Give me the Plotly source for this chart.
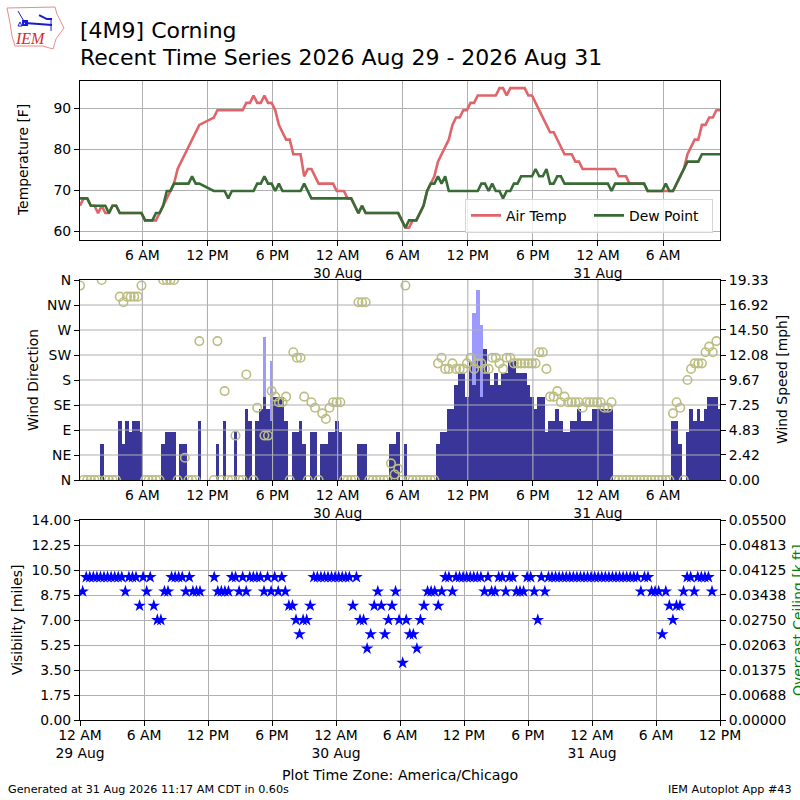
import pandas as pd
import plotly.graph_objects as go

# 20 minute AWOS obs, first one at 00:15
obs_times = pd.date_range("2026-08-29 00:15", periods=178, freq="20min")

air_temp = [
    66.2, 68, 68, 66.2, 66.2, 64.4, 66.2, 64.4, 64.4, 66.2,
    66.2, 64.4, 64.4, 64.4, 64.4, 64.4, 64.4, 64.4, 62.6, 62.6,
    62.6, 62.6, 64.4, 66.2, 68, 69.8, 71.6, 75.2, 77, 78.8,
    80.6, 82.4, 84.2, 86, None, None, None, 87.8, 89.6, 89.6,
    89.6, 89.6, 89.6, 89.6, 89.6, 89.6, 91.4, 91.4, 93.2, 91.4,
    91.4, 93.2, 91.4, 91.4, 89.6, 86, 84.2, 82.4, 82.4, 78.8,
    78.8, 78.8, 73.4, 75.2, 75.2, 73.4, 71.6, 71.6, 71.6, 71.6,
    71.6, 69.8, 69.8, 69.8, 68, 68, 66.2, 64.4, 66.2, 64.4,
    64.4, 64.4, 64.4, 64.4, 64.4, 64.4, 64.4, 64.4, 64.4, 62.6,
    60.8, 60.8, 62.6, 62.6, 64.4, 66.2, 69.8, 71.6, 73.4, 77,
    78.8, 80.6, 82.4, 86, 87.8, 87.8, 89.6, 89.6, 91.4, 91.4,
    93.2, 93.2, 93.2, 93.2, 93.2, 93.2, 95, 95, 93.2, 95,
    95, 95, 95, 95, 93.2, 93.2, 91.4, 89.6, 87.8, 86,
    84.2, 84.2, 82.4, 80.6, 78.8, 78.8, 78.8, 77, 77, 75.2,
    75.2, 75.2, 75.2, 75.2, 75.2, 75.2, 75.2, 75.2, 75.2, 73.4,
    73.4, 73.4, 71.6, 71.6, 71.6, 71.6, 71.6, 69.8, 69.8, 69.8,
    69.8, 69.8, 69.8, 69.8, 69.8, 71.6, 73.4, 75.2, 78.8, 80.6,
    82.4, 82.4, 86, 86, 87.8, 87.8, 89.6, 89.6,
]
dew_point = [
    68, 68, 68, 66.2, 66.2, 66.2, 66.2, 66.2, 64.4, 66.2,
    66.2, 64.4, 64.4, 64.4, 64.4, 64.4, 64.4, 64.4, 62.6, 62.6,
    62.6, 64.4, 64.4, 66.2, 69.8, 69.8, 71.6, 71.6, 71.6, 71.6,
    71.6, 73.4, 71.6, 71.6, None, None, None, 69.8, 69.8, 69.8,
    69.8, 68, 69.8, 69.8, 69.8, 69.8, 69.8, 69.8, 69.8, 71.6,
    71.6, 73.4, 71.6, 71.6, 69.8, 71.6, 69.8, 69.8, 69.8, 69.8,
    69.8, 69.8, 71.6, 69.8, 68, 68, 68, 68, 68, 68,
    68, 68, 68, 68, 68, 68, 66.2, 64.4, 66.2, 64.4,
    64.4, 64.4, 64.4, 64.4, 64.4, 64.4, 64.4, 64.4, 64.4, 62.6,
    60.8, 62.6, 62.6, 62.6, 64.4, 66.2, 69.8, 71.6, 71.6, 73.4,
    71.6, 73.4, 69.8, 69.8, 69.8, 69.8, 69.8, 69.8, 69.8, 69.8,
    69.8, 71.6, 71.6, 69.8, 71.6, 69.8, 69.8, 68, 69.8, 69.8,
    71.6, 71.6, 73.4, 73.4, 73.4, 73.4, 75.2, 73.4, 73.4, 75.2,
    71.6, 71.6, 73.4, 73.4, 71.6, 71.6, 71.6, 71.6, 71.6, 71.6,
    71.6, 71.6, 71.6, 71.6, 71.6, 71.6, 71.6, 69.8, 71.6, 71.6,
    71.6, 71.6, 71.6, 71.6, 71.6, 71.6, 71.6, 69.8, 69.8, 69.8,
    69.8, 69.8, 71.6, 69.8, 69.8, 71.6, 73.4, 75.2, 77, 77,
    77, 77, 78.8, 78.8, 78.8, 78.8, 78.8, 78.8,
]
wind_speed = [
    0, 0, 0, 0, 0, 0, 3.45, 0, 0, 0,
    0, 5.75, 3.45, 5.75, 4.6, 5.75, 5.75, 4.6, 0, 0,
    0, 0, 0, 3.45, 4.6, 4.6, 4.6, 0, 3.45, 3.45,
    0, 0, 0, 5.75, 0, 0, 0, 0, 3.45, 0,
    5.75, 0, 0, 4.6, 0, 0, 6.9, 5.75, 0, 5.75,
    6.9, 8.06, 6.9, 5.75, 8.06, 8.06, 8.06, 5.75, 0, 4.6,
    4.6, 5.75, 3.45, 0, 4.6, 4.6, 0, 3.45, 3.45, 4.6,
    4.6, 5.75, 4.6, 0, 0, 0, 0, 3.45, 3.45, 3.45,
    0, 0, 0, 0, 0, 0, 3.45, 3.45, 4.6, 0,
    3.45, 0, 0, 0, 0, 0, 0, 0, 0, 3.45,
    4.6, 4.6, 6.9, 6.9, 9.21, 10.36, 10.36, 8.06, 11.51, 9.21,
    11.51, 8.06, 12.66, 10.36, 9.21, 10.36, 9.21, 10.36, 10.36, 11.51,
    11.51, 10.36, 10.36, 10.36, 9.21, 8.06, 6.9, 8.06, 8.06, 4.6,
    5.75, 5.75, 6.9, 5.75, 4.6, 4.6, 5.75, 5.75, 6.9, 5.75,
    5.75, 5.75, 6.9, 6.9, 6.9, 6.9, 6.9, 6.9, 0, 0,
    0, 0, 0, 0, 0, 0, 0, 0, 0, 0,
    0, 0, 0, 0, 5.75, 5.75, 3.45, 0, 4.6, 6.9,
    5.75, 6.9, 5.75, 6.9, 8.06, 8.06, 8.06, 6.9,
]
wind_dir = [
    350, 0, 0, 0, 0, 0, 360, 0, 0, 0,
    0, 330, 320, 330, 330, 330, 330, 350, 0, 0,
    0, 0, 0, 360, 360, 360, 360, 0, None, 40,
    0, 0, 0, 250, None, None, None, 0, 250, 0,
    160, 0, 0, 80, 0, 0, 190, None, 0, 130,
    None, 80, 80, 160, 150, 140, 140, 150, 0, 230,
    220, 220, 150, 0, 140, 130, 0, 120, 110, 130,
    140, 140, 140, 0, 0, 0, 0, 320, 320, 320,
    0, 0, 0, 0, 0, 0, 30, 10, 20, 0,
    350, 0, 0, 0, 0, 0, 0, 0, 0, 210,
    220, 200, 200, 210, 200, 200, 200, 210, 220, 200,
    210, 210, 200, 200, 220, 220, 210, 200, 220, 220,
    210, 210, 210, 210, 210, 210, 210, 230, 230, 200,
    150, 150, 160, 140, 150, 140, 140, 140, 140, 130,
    140, 140, 140, 140, 140, 130, 130, 140, 0, 0,
    0, 0, 0, 0, 0, 0, 0, 0, 0, 0,
    0, 0, 0, 0, 120, 140, 130, 0, 180, 200,
    210, 210, 210, 230, 240, 230, 250, None,
]
gust_times = ["2026-08-29 17:15", "2026-08-29 17:55", "2026-08-30 12:35", "2026-08-30 12:55", "2026-08-30 13:15"]
gust_speed = [13.81, 11.51, 16.11, 18.41, 14.96]
visibility = [
    9, 10, 10, 10, 10, 10, 10, 10, 10, 10,
    10, 10, 9, 10, 10, 10, 8, 10, 9, 10,
    8, 7, 7, 9, 9, 10, 10, 10, 10, 9,
    10, 9, 9, 9, None, None, None, 10, 9, 9,
    9, 9, 10, 10, 9, 10, 9, 10, 10, 10,
    10, 9, 10, 9, 10, 9, 10, 9, 8, 8,
    7, 6, 7, 7, 8, 10, 10, 10, 10, 10,
    10, 10, 10, 10, 10, 10, 8, 10, 7, 7,
    5, 6, 8, 9, 8, 6, 7, 8, 9, 7,
    4, 7, 6, 6, 5, 7, 8, 9, 9, 9,
    8, 9, 10, 10, 9, 10, 10, 10, 10, 10,
    10, 10, 10, 9, 10, 9, 9, 10, 10, 9,
    10, 10, 9, 9, 9, 10, 10, 9, 7, 10,
    9, 10, 10, 10, 10, 10, 10, 10, 10, 10,
    10, 10, 10, 10, 10, 10, 10, 10, 10, 10,
    10, 10, 10, 10, 10, 10, 10, 9, 10, 10,
    9, 9, 9, 6, 9, 8, 7, 8, 8, 9,
    10, 10, 9, 10, 10, 10, 10, 9,
]
# no overcast reports in this window
ceiling_times = []
ceiling_values = []

panel_tickvals = [
    "2026-08-29 06:00", "2026-08-29 12:00", "2026-08-29 18:00",
    "2026-08-30 00:00", "2026-08-30 06:00", "2026-08-30 12:00", "2026-08-30 18:00",
    "2026-08-31 00:00", "2026-08-31 06:00",
]
panel_ticktext = ["6 AM", "12 PM", "6 PM", "12 AM<br>30 Aug", "6 AM", "12 PM", "6 PM", "12 AM<br>31 Aug", "6 AM"]
bottom_tickvals = ["2026-08-29 00:00"] + panel_tickvals + ["2026-08-31 12:00"]
bottom_ticktext = ["12 AM<br>29 Aug"] + panel_ticktext + ["12 PM"]
temp_ticks = [60, 70, 80, 90]
dir_ticks = [0, 45, 90, 135, 180, 225, 270, 315, 360]
dir_labels = ["N", "NE", "E", "SE", "S", "SW", "W", "NW", "N"]
speed_ticks = [0, 2.42, 4.83, 7.25, 9.67, 12.08, 14.50, 16.92, 19.33]
vis_ticks = [0, 1.75, 3.5, 5.25, 7, 8.75, 10.5, 12.25, 14]
ceiling_ticks = [0, 0.00688, 0.01375, 0.02063, 0.0275, 0.03438, 0.04125, 0.04813, 0.055]

GRID = "#b0b0b0"
FONT = "DejaVu Sans"

fig = go.Figure()

# top panel
fig.add_trace(go.Scatter(x=obs_times, y=air_temp, mode="lines", name="Air Temp", connectgaps=True,
                         line=dict(color="#e0656b", width=2.6), xaxis="x", yaxis="y"))
fig.add_trace(go.Scatter(x=obs_times, y=dew_point, mode="lines", name="Dew Point", connectgaps=True,
                         line=dict(color="#386b35", width=2.6), xaxis="x", yaxis="y"))

# wind panel, bars go on the main axes so the circles stay above them
fig.add_trace(go.Bar(x=gust_times, y=gust_speed, width=1200000, marker=dict(color="#9d9aff", line_width=0),
                     showlegend=False, xaxis="x2", yaxis="y2"))
fig.add_trace(go.Bar(x=obs_times, y=wind_speed, width=1200000, marker=dict(color="#393599", line_width=0),
                     showlegend=False, xaxis="x2", yaxis="y2"))
fig.add_trace(go.Scatter(x=obs_times, y=wind_dir, mode="markers", showlegend=False, xaxis="x2", yaxis="y3",
                         marker=dict(symbol="circle-open", size=8.5, color="#bdbe82", line=dict(width=1.6, color="#bdbe82"))))

# visibility panel
fig.add_trace(go.Scatter(x=obs_times, y=visibility, mode="markers", showlegend=False, xaxis="x3", yaxis="y4",
                         marker=dict(symbol="star", size=9.5, color="#0000ff", line_width=0)))
fig.add_trace(go.Scatter(x=ceiling_times, y=ceiling_values, mode="markers", showlegend=False, xaxis="x3", yaxis="y5",
                         marker=dict(color="green")))

axis_style = dict(showline=True, linecolor="black", linewidth=1.1, mirror=True, ticks="outside", automargin=False,
                  ticklen=5, tickcolor="black", tickwidth=1.1, zeroline=False)
grid_style = dict(showgrid=True, gridcolor=GRID, gridwidth=1.1)
no_grid = dict(showgrid=False)

fig.update_layout(
    template="none",
    width=800,
    height=800,
    margin=dict(l=0, r=0, t=0, b=0),
    paper_bgcolor="white",
    plot_bgcolor="white",
    font=dict(family=FONT, size=13.9, color="black"),
    barmode="overlay",
    bargap=0,
    xaxis=dict(domain=[0.1, 0.9], range=["2026-08-29 00:15", "2026-08-31 11:15"], type="date", anchor="y",
               ticklabelstandoff=-3, tickmode="array", tickvals=panel_tickvals, ticktext=panel_ticktext,
               **axis_style, **grid_style),
    yaxis=dict(domain=[0.7, 0.899], range=[57.8, 96.8], anchor="x", tickmode="array", tickvals=temp_ticks,
               **axis_style, **grid_style),
    xaxis2=dict(domain=[0.1, 0.9], range=["2026-08-29 00:15", "2026-08-31 11:15"], type="date", anchor="y2",
                ticklabelstandoff=-3, tickmode="array", tickvals=panel_tickvals, ticktext=panel_ticktext,
                **axis_style, **no_grid),
    yaxis2=dict(domain=[0.4, 0.65], range=[0, 19.33], anchor="x2", side="right", tickmode="array",
                tickvals=speed_ticks, ticktext=[f"{v:.2f}" for v in speed_ticks], **axis_style, **no_grid),
    yaxis3=dict(range=[0, 360], anchor="x2", overlaying="y2", side="left", tickmode="array",
                tickvals=dir_ticks, ticktext=dir_labels, **axis_style, **no_grid),
    xaxis3=dict(domain=[0.1, 0.9], range=["2026-08-29 00:00", "2026-08-31 12:00"], type="date", anchor="y4",
                ticklabelstandoff=-3, tickmode="array", tickvals=bottom_tickvals, ticktext=bottom_ticktext,
                **axis_style, **grid_style),
    yaxis4=dict(domain=[0.1, 0.35], range=[0, 14], anchor="x3", tickmode="array", tickvals=vis_ticks,
                ticktext=[f"{v:.2f}" for v in vis_ticks], **axis_style, **grid_style),
    yaxis5=dict(range=[0, 0.055], anchor="x3", overlaying="y4", side="right", tickmode="array",
                tickvals=ceiling_ticks, ticktext=[f"{v:.5f}" for v in ceiling_ticks], **axis_style, **no_grid),
    legend=dict(orientation="h", x=0.89125, xanchor="right", y=0.709, yanchor="bottom", bgcolor="rgba(255,255,255,0.8)",
                bordercolor="#d5d5d5", borderwidth=1, itemwidth=30, entrywidth=78, entrywidthmode="pixels",
                font=dict(size=13.9)),
)

# the wind panel grid sits on top of the bars in the original
for v in dir_ticks[1:-1]:
    fig.add_shape(type="line", xref="x2 domain", yref="y3", x0=0, x1=1, y0=v, y1=v, layer="above",
                  line=dict(color=GRID, width=1.1))
for t in panel_tickvals:
    fig.add_shape(type="line", xref="x2", yref="y3 domain", x0=t, x1=t, y0=0, y1=1, layer="above",
                  line=dict(color=GRID, width=1.1))


def px(x, y):
    return x / 800, 1 - y / 800


def note(text, x, y, size=13.9, color="black", xanchor="center", angle=0, family=FONT):
    ax, ay = px(x, y)
    fig.add_annotation(text=text, x=ax, y=ay, xref="paper", yref="paper", showarrow=False, xanchor=xanchor,
                       yanchor="middle", textangle=angle, font=dict(size=size, color=color, family=family))


def draw_path(points, color, width, closed=False):
    coords = [px(*p) for p in points]
    path = "M " + " L ".join(f"{x:.4f} {y:.4f}" for x, y in coords) + (" Z" if closed else "")
    fig.add_shape(type="path", path=path, xref="paper", yref="paper", line=dict(color=color, width=width))


note("[4M9] Corning", 78, 31, size=22, xanchor="left")
note("Recent Time Series 2026 Aug 29 - 2026 Aug 31", 78, 57, size=22, xanchor="left")
note("Temperature [F]", 23, 160, angle=-90)
note("Wind Direction", 33, 380, angle=-90)
note("Wind Speed [mph]", 782, 380, angle=-90)
note("Visibility [miles]", 17, 620, angle=-90)
note("Overcast Ceiling [k ft]", 798, 620, color="green", angle=-90)
note("Plot Time Zone: America/Chicago", 400, 775, size=14.2)
note("Generated at 31 Aug 2026 11:17 AM CDT in 0.60s", 6, 789, size=11.2, xanchor="left")
note("IEM Autoplot App #43", 794, 789, size=11.2, xanchor="right")

# IEM logo: state outline, station glyph and the letters
draw_path([(7, 8), (55, 7), (57, 14), (64, 28), (56, 39), (53, 49), (43, 46), (15, 46), (12, 36), (10, 23)],
          "#ec8a8a", 1, closed=True)
draw_path([(25, 23), (52, 25)], "#1a1ad0", 2)
draw_path([(18, 11), (25, 23)], "#1a1ad0", 1)
draw_path([(39, 15), (47, 19), (52, 19)], "#1a1ad0", 2)
draw_path([(51, 19), (51, 31)], "#1a1ad0", 1)
draw_path([(23, 21), (27, 21), (27, 25), (23, 25)], "#1a1ad0", 2, closed=True)
draw_path([(18, 26), (20, 22), (22, 26)], "#1a1ad0", 1, closed=True)
note("<i>IEM</i>", 30, 39, size=16, color="#d62a2a", family="Liberation Serif")

# the default page body margin would push the figure off by 8 px
fig.write_html("out.html", config={"displayModeBar": False}, post_script="document.body.style.margin = '0';")
